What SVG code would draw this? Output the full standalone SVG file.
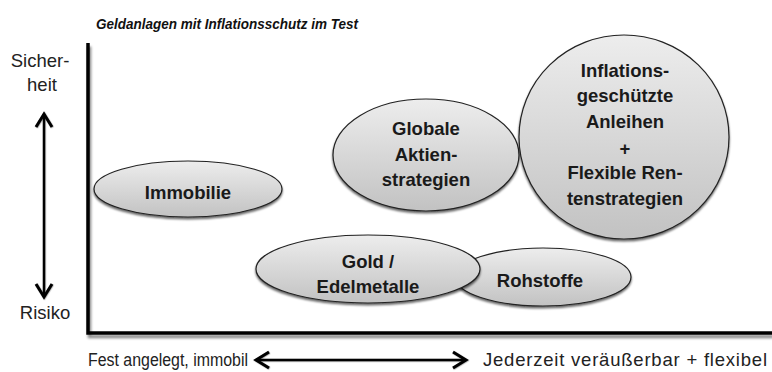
<svg xmlns="http://www.w3.org/2000/svg" width="772" height="372" viewBox="0 0 772 372">
<style>
  .title { font-family: "Liberation Sans", Arial, sans-serif; font-size: 15px; font-weight: bold; font-style: italic; fill: #111; }
  .lbl { font-family: "Liberation Sans", Arial, sans-serif; font-size: 18.5px; fill: #222; }
  .node ellipse { fill: url(#g); stroke: #222; stroke-width: 1.2; filter: url(#sh); }
  .node text { font-family: "Liberation Sans", Arial, sans-serif; font-size: 18.5px; font-weight: bold; fill: #1a1a1a; text-anchor: middle; }
  .axis { fill: none; stroke: #000; stroke-width: 3.5; filter: url(#ash); }
  .arr { fill: none; stroke: #000; stroke-width: 2.5; marker-start: url(#chev); marker-end: url(#chev); filter: url(#ash2); }
</style>
<defs>
  <linearGradient id="g" x1="0" y1="0" x2="0" y2="1">
    <stop offset="0" stop-color="#ededed"/>
    <stop offset="1" stop-color="#c2c2c2"/>
  </linearGradient>
  <filter id="sh" x="-10%" y="-10%" width="120%" height="130%">
    <feDropShadow dx="0" dy="2" stdDeviation="1" flood-color="#000" flood-opacity="0.6"/>
  </filter>
  <filter id="ash" x="-5%" y="-5%" width="110%" height="115%">
    <feDropShadow dx="1.5" dy="3.5" stdDeviation="0.8" flood-color="#000" flood-opacity="0.45"/>
  </filter>
  <filter id="ash2" filterUnits="userSpaceOnUse" x="0" y="0" width="772" height="372">
    <feDropShadow dx="0.5" dy="0.5" stdDeviation="0.6" flood-color="#000" flood-opacity="0.4"/>
  </filter>
  <marker id="chev" markerUnits="userSpaceOnUse" markerWidth="24" markerHeight="24" viewBox="-18 -12 24 24" refX="0" refY="0" orient="auto-start-reverse" overflow="visible">
    <path d="M-13,-8 L0,0 L-13,8" fill="none" stroke="#000" stroke-width="3"/>
  </marker>
</defs>

<text class="title" x="96" y="29" textLength="262" lengthAdjust="spacingAndGlyphs">Geldanlagen mit Inflationsschutz im Test</text>

<g id="axes">
  <path class="axis" d="M88,43 V333 H772"/>
  <path class="arr" d="M44,114 V297"/>
  <path class="arr" d="M256,360 H466"/>
</g>

<g id="axis-labels">
  <text class="lbl" x="40" y="67" text-anchor="middle">Sicher-</text>
  <text class="lbl" x="42" y="91" text-anchor="middle">heit</text>
  <text class="lbl" x="45" y="319" text-anchor="middle">Risiko</text>
  <text class="lbl" x="88" y="366" style="font-size:17.5px" textLength="160" lengthAdjust="spacingAndGlyphs">Fest angelegt, immobil</text>
  <text class="lbl" x="483" y="366" textLength="284" lengthAdjust="spacing">Jederzeit veräußerbar + flexibel</text>
</g>

<g id="immobilie" class="node">
  <ellipse cx="188" cy="189" rx="94" ry="28"/>
  <text x="188" y="199">Immobilie</text>
</g>

<g id="globale" class="node">
  <ellipse cx="426" cy="155" rx="93" ry="56"/>
  <text x="426" y="135">Globale</text>
  <text x="426" y="161">Aktien-</text>
  <text x="426" y="186">strategien</text>
</g>

<g id="inflation" class="node">
  <ellipse cx="624" cy="137" rx="105" ry="102"/>
  <text x="625" y="77">Inflations-</text>
  <text x="625" y="102">geschützte</text>
  <text x="625" y="128">Anleihen</text>
  <text x="625" y="155">+</text>
  <text x="625" y="179">Flexible Ren-</text>
  <text x="625" y="205">tenstrategien</text>
</g>

<g id="rohstoffe" class="node">
  <ellipse cx="543" cy="277" rx="88" ry="29"/>
  <text x="540" y="287">Rohstoffe</text>
</g>

<g id="gold" class="node">
  <ellipse cx="368" cy="269" rx="112" ry="34"/>
  <text x="368" y="268">Gold /</text>
  <text x="368" y="293">Edelmetalle</text>
</g>
</svg>
